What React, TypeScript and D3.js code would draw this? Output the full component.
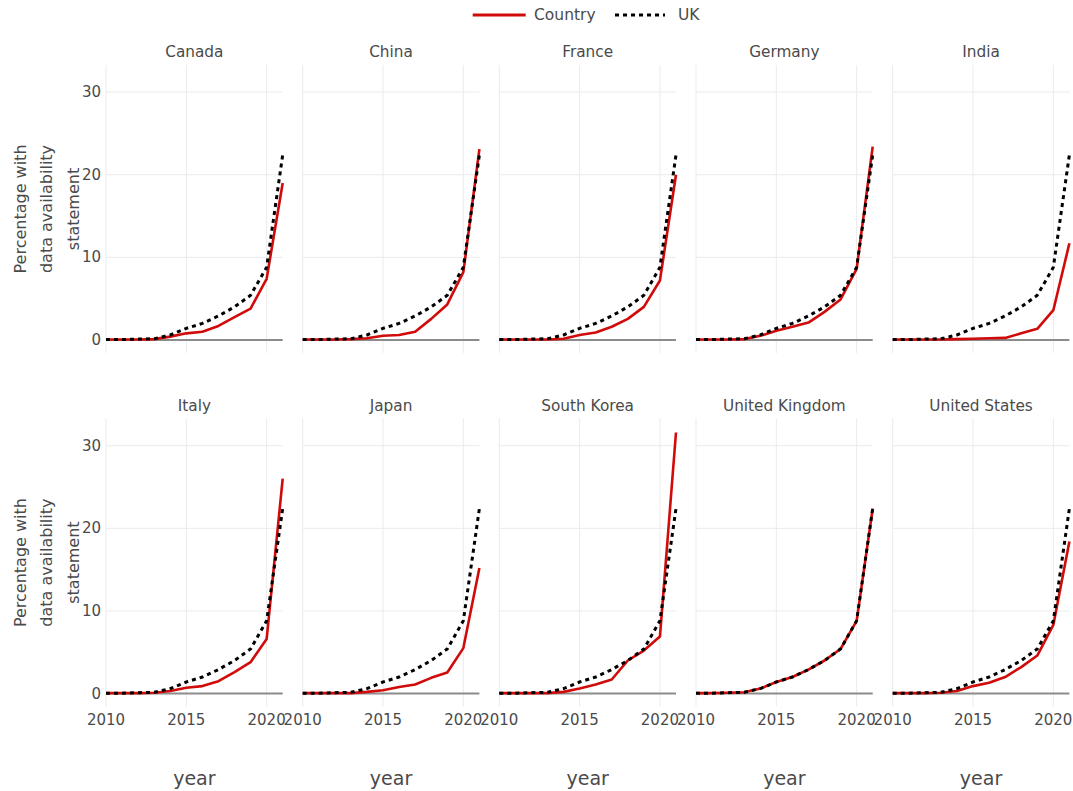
import React from "react";
import * as d3 from "d3";

const years = [2010, 2011, 2012, 2013, 2014, 2015, 2016, 2017, 2018, 2019, 2020, 2021];
const countries = ["Canada", "China", "France", "Germany", "India", "Italy", "Japan", "South Korea", "United Kingdom", "United States"];

const ukValues = [0.05, 0.05, 0.1, 0.15, 0.6, 1.4, 2.0, 2.9, 4.0, 5.4, 8.8, 22.4];

const canada = [0.05, 0.05, 0.05, 0.1, 0.4, 0.8, 1.0, 1.7, 2.75, 3.8, 7.4, 19.0];
const china = [0.05, 0.05, 0.05, 0.1, 0.2, 0.5, 0.6, 1.0, 2.55, 4.3, 8.2, 23.1];
const france = [0.05, 0.05, 0.05, 0.05, 0.15, 0.6, 0.9, 1.6, 2.55, 4.0, 7.2, 20.0];
const germany = [0.05, 0.05, 0.05, 0.1, 0.5, 1.1, 1.6, 2.1, 3.4, 4.9, 8.6, 23.4];
const india = [0.05, 0.05, 0.05, 0.05, 0.1, 0.15, 0.2, 0.25, 0.8, 1.35, 3.6, 11.7];
const italy = [0.05, 0.05, 0.05, 0.1, 0.3, 0.7, 0.9, 1.5, 2.6, 3.8, 6.6, 26.0];
const japan = [0.05, 0.05, 0.05, 0.05, 0.2, 0.4, 0.8, 1.1, 1.9, 2.55, 5.5, 15.2];
const southKorea = [0.05, 0.05, 0.05, 0.05, 0.2, 0.6, 1.1, 1.7, 4.0, 5.2, 6.9, 31.6];
const unitedKingdom = [0.05, 0.05, 0.1, 0.15, 0.6, 1.4, 2.0, 2.9, 4.0, 5.4, 8.8, 22.4];
const unitedStates = [0.05, 0.05, 0.05, 0.1, 0.3, 0.9, 1.3, 2.0, 3.2, 4.6, 8.3, 18.4];

const countryValues = [canada, china, france, germany, india, italy, japan, southKorea, unitedKingdom, unitedStates];

const xTicks = [2010, 2015, 2020];
const yTicks = [0, 10, 20, 30];

const FONT = "'DejaVu Sans', Verdana, sans-serif";
const RED = "#d10a0a";
const TEXT = "#4a4a4a";

const colX = [106, 302.7, 499.3, 696, 892.7];
const panelW = 176.7;
const rowTop = [65, 418.6];
const panelH = 288;

export default function App() {
  const yMax = 31.6;
  const pad = yMax * 0.05;
  return (
    <svg width={1073} height={791} style={{ position: "absolute", left: 0, top: 0, background: "#fff" }}>
      {/* legend */}
      <g fontFamily={FONT} fontSize={15.5} fill={TEXT}>
        <line x1={472.7} x2={525.7} y1={15} y2={15} stroke={RED} strokeWidth={2.8} />
        <text x={534} y={15} dominantBaseline="central">Country</text>
        <line x1={615} x2={665} y1={15} y2={15} stroke="#000" strokeWidth={3} strokeDasharray="4,4" />
        <text x={678} y={15} dominantBaseline="central">UK</text>
      </g>
      {countries.map((c, i) => {
        const col = i % 5;
        const row = Math.floor(i / 5);
        const x = d3.scaleLinear().domain([2010, 2021]).range([colX[col], colX[col] + panelW]);
        const y = d3.scaleLinear().domain([-pad, yMax + pad + 0.1]).range([rowTop[row] + panelH, rowTop[row]]);
        const line = d3
          .line<number>()
          .x((_, k) => x(years[k]))
          .y((v) => y(v));
        const cx = colX[col] + panelW / 2;
        return (
          <g key={c}>
            {yTicks.slice(1).map((t) => (
              <line key={"h" + t} x1={x(2010)} x2={x(2021)} y1={y(t)} y2={y(t)} stroke="#ebebeb" strokeWidth={1} />
            ))}
            {xTicks.map((t) => (
              <line key={"v" + t} x1={x(t)} x2={x(t)} y1={rowTop[row]} y2={rowTop[row] + panelH} stroke="#ebebeb" strokeWidth={1} />
            ))}
            <line x1={x(2010)} x2={x(2021)} y1={y(0)} y2={y(0)} stroke="#8c8c8c" strokeWidth={2} />
            <path d={line(countryValues[i]) || ""} fill="none" stroke={RED} strokeWidth={2.6} strokeLinejoin="round" />
            <path d={line(ukValues) || ""} fill="none" stroke="#000" strokeWidth={3} strokeDasharray="4,4" />
            <text x={cx} y={rowTop[row] - 13} textAnchor="middle" dominantBaseline="central" fontFamily={FONT} fontSize={15.3} fill={TEXT}>
              {c}
            </text>
            {col === 0 &&
              yTicks.map((t) => (
                <text key={"yt" + t} x={colX[0] - 5} y={y(t)} textAnchor="end" dominantBaseline="central" fontFamily={FONT} fontSize={15} fill={TEXT}>
                  {t}
                </text>
              ))}
            {row === 1 &&
              xTicks.map((t) => (
                <text key={"xt" + t} x={x(t)} y={720} textAnchor="middle" dominantBaseline="central" fontFamily={FONT} fontSize={15} fill={TEXT}>
                  {t}
                </text>
              ))}
            {row === 1 && (
              <text x={cx} y={778} textAnchor="middle" dominantBaseline="central" fontFamily={FONT} fontSize={19} fill={TEXT}>
                year
              </text>
            )}
            {col === 0 && (
              <g transform={`translate(46, ${rowTop[row] + panelH / 2}) rotate(-90)`} fontFamily={FONT} fontSize={16} fill={TEXT} textAnchor="middle">
                <text x={0} y={-26} dominantBaseline="central">Percentage with</text>
                <text x={0} y={0} dominantBaseline="central">data availability</text>
                <text x={0} y={27} dominantBaseline="central">statement</text>
              </g>
            )}
          </g>
        );
      })}
    </svg>
  );
}
